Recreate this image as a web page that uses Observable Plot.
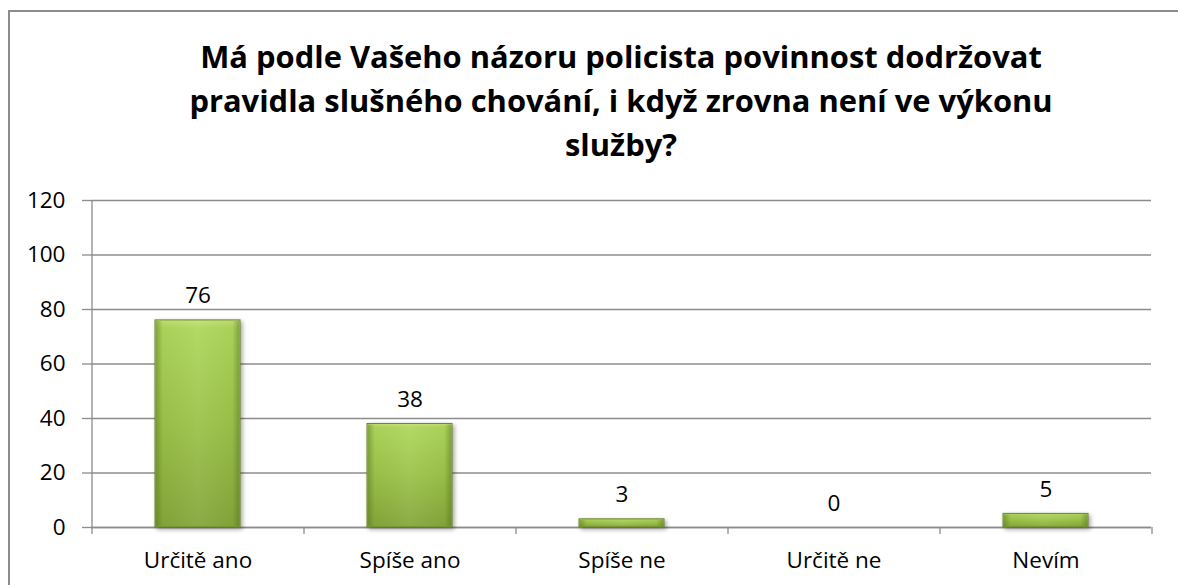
<!DOCTYPE html>
<html>
<head>
<meta charset="utf-8">
<script src="https://cdn.jsdelivr.net/npm/d3@7"></script>
<script src="https://cdn.jsdelivr.net/npm/@observablehq/plot@0.6"></script>
<style>
  html, body { margin: 0; padding: 0; background: #fff; overflow: hidden; width: 1178px; height: 585px; }
  #frameTop { position: absolute; left: 8px; top: 10px; width: 1170px; height: 2px; background: #8c8c8c; }
  #frameLeft { position: absolute; left: 8px; top: 10px; width: 2px; height: 575px; background: #8c8c8c; }
  #title { position: absolute; left: 71px; width: 1100px; top: 34px; text-align: center;
           font-family: "Open Sans", sans-serif; font-weight: bold; font-size: 30.9px; line-height: 44px; color: #000; }
  #chart { position: absolute; left: 0; top: 180px; }
</style>
</head>
<body>
<div id="frameTop"></div>
<div id="frameLeft"></div>
<div id="title">Má podle Vašeho názoru policista povinnost dodržovat<br>pravidla slušného chování, i když zrovna není ve výkonu<br>služby?</div>
<div id="chart"></div>
<script>
const categories = ["Určitě ano", "Spíše ano", "Spíše ne", "Určitě ne", "Nevím"];
const values = [76, 38, 3, 0, 5];
const yTicks = [0, 20, 40, 60, 80, 100, 120];

const data = categories.map((c, i) => ({category: c, value: values[i]}));

const W = 1178, H = 405, ML = 91, MR = 27, MT = 20, MB = 58;
const step = (W - ML - MR) / categories.length;
const FS = 22.5;

const svg = Plot.plot({
  width: W, height: H,
  marginLeft: ML, marginRight: MR, marginTop: MT, marginBottom: MB,
  style: {fontFamily: "'Open Sans', sans-serif", fontSize: FS + "px", color: "#000", background: "transparent"},
  x: {domain: categories, paddingInner: 0.6, paddingOuter: 0.3, label: null},
  y: {domain: [0, 120], ticks: yTicks, label: null},
  marks: [
    Plot.gridY(yTicks, {stroke: "#8c8c8c", strokeOpacity: 1, strokeWidth: 1.3}),
    Plot.axisY(yTicks, {tickSize: 9, tickPadding: 17, stroke: "#8c8c8c", strokeWidth: 1.3, fill: "#000", fontSize: FS, label: null}),
    Plot.axisX({tickSize: 0, tickPadding: 25, fill: "#000", fontSize: FS, label: null}),
    Plot.axisX({tickSize: 7, text: null, dx: -step / 2, stroke: "#8c8c8c", strokeWidth: 1.3, label: null}),
    Plot.axisX(categories.slice(-1), {tickSize: 7, text: null, dx: step / 2, stroke: "#8c8c8c", strokeWidth: 1.3, label: null}),
    Plot.ruleX([0], {x: () => categories[0], dx: -step / 2, y1: 0, y2: 120, stroke: "#8c8c8c", strokeWidth: 1.3}),
    Plot.ruleY([0], {stroke: "#8c8c8c", strokeWidth: 1.3}),
    Plot.barY(data, {x: "category", y: "value", fill: "url(#barV)", stroke: "#6a8428", strokeWidth: 1, className: "bars"}),
    Plot.barY(data, {x: "category", y: "value", fill: "url(#barH)", inset: 1}),
    Plot.text(data, {x: "category", y: "value", text: d => String(d.value), lineAnchor: "bottom", dy: -17, fill: "#000", fontSize: FS})
  ]
});

const ns = "http://www.w3.org/2000/svg";
const defs = document.createElementNS(ns, "defs");
defs.innerHTML = `
  <linearGradient id="barV" x1="0" y1="0" x2="0" y2="1">
    <stop offset="0" stop-color="#c2e274"/>
    <stop offset="0.04" stop-color="#aed65c"/>
    <stop offset="0.5" stop-color="#9cc24a"/>
    <stop offset="1" stop-color="#84a53a"/>
  </linearGradient>
  <linearGradient id="barH" x1="0" y1="0" x2="1" y2="0">
    <stop offset="0" stop-color="#4f6a18" stop-opacity="0.45"/>
    <stop offset="0.08" stop-color="#4f6a18" stop-opacity="0.05"/>
    <stop offset="0.5" stop-color="#ffffff" stop-opacity="0.06"/>
    <stop offset="0.92" stop-color="#4f6a18" stop-opacity="0.05"/>
    <stop offset="1" stop-color="#4f6a18" stop-opacity="0.45"/>
  </linearGradient>`;
svg.insertBefore(defs, svg.firstChild);
d3.select(svg).selectAll("g.bars").style("filter", "drop-shadow(2px 2px 2px rgba(0,0,0,0.35))");

document.getElementById("chart").appendChild(svg);
</script>
</body>
</html>
